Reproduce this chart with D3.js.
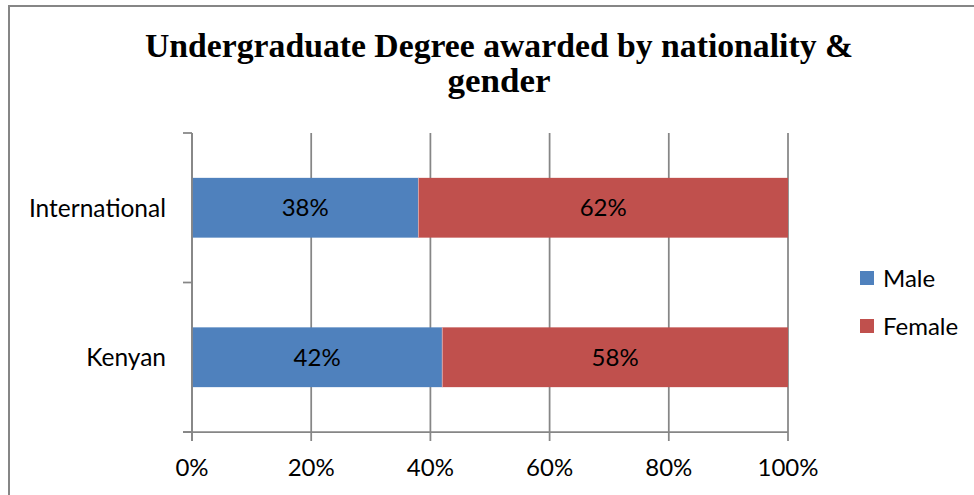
<!DOCTYPE html>
<html>
<head>
	<meta charset="utf-8">
	<script src="https://d3js.org/d3.v7.min.js"></script>
	<title>Undergraduate Degree awarded by nationality & gender</title>
	<style>
		body { margin: 0; background: #fff; }
		text { font-family: Lato, "Open Sans", sans-serif; fill: #000; }
	</style>
</head>
<body>
	<div id="chart"></div>

	<script type="text/javascript">

		// values (percent)
		var categories = ["International", "Kenyan"];
		var male = [38, 42];
		var female = [62, 58];
		var seriesNames = ["Male", "Female"];
		var seriesColors = ["#4F81BD", "#C0504D"];
		var xTicks = [0, 20, 40, 60, 80, 100];
		var titleLines = ["Undergraduate Degree awarded by nationality &", "gender"];

		var svgWidth = 974, svgHeight = 495;
		var plotLeft = 192, plotRight = 788, plotTop = 133, plotBottom = 432;

		var rows = categories.map(function(c, i){
			return {cat: c, Male: male[i], Female: female[i]};
		});
		var stacked = d3.stack().keys(seriesNames)(rows);

		var xScale = d3.scaleLinear().domain([0, 100]).range([plotLeft, plotRight]);
		var yScale = d3.scaleBand()
						.domain(categories)
						.range([plotTop, plotBottom])
						.paddingInner(0.6)
						.paddingOuter(0.3);

		var svg = d3.select("#chart").append("svg")
						.attr("width", svgWidth)
						.attr("height", svgHeight);

		// chart area border (only left and top are in frame)
		svg.append("path")
			.attr("d", "M9,495 V6 H974")
			.attr("fill", "none")
			.attr("stroke", "#868686")
			.attr("stroke-width", 2);

		// title
		svg.selectAll(".title")
			.data(titleLines).enter().append("text")
			.attr("class", "title")
			.attr("x", 499)
			.attr("y", function(d, i){ return 57 + i * 35; })
			.attr("text-anchor", "middle")
			.style("font-family", "'Liberation Serif', 'DejaVu Serif', serif")
			.style("font-weight", "bold")
			.style("font-size", "33px")
			.attr("textLength", function(d, i){ return i == 0 ? 708 : 103; })
			.attr("lengthAdjust", "spacingAndGlyphs")
			.text(function(d){ return d; });

		// gridlines
		svg.selectAll(".grid")
			.data(xTicks).enter().append("line")
			.attr("class", "grid")
			.attr("x1", function(d){ return xScale(d); })
			.attr("x2", function(d){ return xScale(d); })
			.attr("y1", plotTop)
			.attr("y2", plotBottom)
			.attr("stroke", "#868686")
			.attr("stroke-width", 1.75);

		// bars
		var groups = svg.selectAll(".series")
			.data(stacked).enter().append("g")
			.attr("class", "series")
			.attr("fill", function(d, i){ return seriesColors[i]; });

		groups.selectAll("rect")
			.data(function(d){ return d; }).enter().append("rect")
			.attr("x", function(d){ return xScale(d[0]); })
			.attr("y", function(d){ return yScale(d.data.cat); })
			.attr("width", function(d){ return xScale(d[1]) - xScale(d[0]); })
			.attr("height", yScale.bandwidth());

		// thin light line between segments
		svg.selectAll(".sep")
			.data(stacked[1]).enter().append("line")
			.attr("class", "sep")
			.attr("x1", function(d){ return xScale(d[0]); })
			.attr("x2", function(d){ return xScale(d[0]); })
			.attr("y1", function(d){ return yScale(d.data.cat); })
			.attr("y2", function(d){ return yScale(d.data.cat) + yScale.bandwidth(); })
			.attr("stroke", "#d9a0a0")
			.attr("stroke-width", 1);

		// value labels
		groups.selectAll(".val")
			.data(function(d){ return d; }).enter().append("text")
			.attr("class", "val")
			.attr("x", function(d){ return (xScale(d[0]) + xScale(d[1])) / 2; })
			.attr("y", function(d){ return yScale(d.data.cat) + yScale.bandwidth() / 2; })
			.attr("dy", "0.36em")
			.attr("text-anchor", "middle")
			.style("font-size", "24px")
			.style("fill", "#000")
			.text(function(d){ return (d[1] - d[0]) + "%"; });

		// axes
		var axisColor = "#868686";
		svg.append("line")
			.attr("x1", plotLeft).attr("x2", plotLeft)
			.attr("y1", plotTop).attr("y2", plotBottom + 9)
			.attr("stroke", axisColor).attr("stroke-width", 1.75);
		svg.append("line")
			.attr("x1", plotLeft - 9).attr("x2", plotRight)
			.attr("y1", plotBottom).attr("y2", plotBottom)
			.attr("stroke", axisColor).attr("stroke-width", 1.75);

		// x tick marks
		svg.selectAll(".xtick")
			.data(xTicks).enter().append("line")
			.attr("class", "xtick")
			.attr("x1", function(d){ return xScale(d); })
			.attr("x2", function(d){ return xScale(d); })
			.attr("y1", plotBottom)
			.attr("y2", plotBottom + 9)
			.attr("stroke", axisColor).attr("stroke-width", 1.75);

		// y tick marks at band boundaries
		var yBounds = [plotTop, (plotTop + plotBottom) / 2, plotBottom];
		svg.selectAll(".ytick")
			.data(yBounds).enter().append("line")
			.attr("class", "ytick")
			.attr("x1", plotLeft - 9)
			.attr("x2", plotLeft)
			.attr("y1", function(d){ return d; })
			.attr("y2", function(d){ return d; })
			.attr("stroke", axisColor).attr("stroke-width", 1.75);

		// x tick labels
		svg.selectAll(".xlabel")
			.data(xTicks).enter().append("text")
			.attr("class", "xlabel")
			.attr("x", function(d){ return xScale(d); })
			.attr("y", 476)
			.attr("text-anchor", "middle")
			.style("font-size", "24px")
			.text(function(d){ return d + "%"; });

		// category labels
		svg.selectAll(".ylabel")
			.data(categories).enter().append("text")
			.attr("class", "ylabel")
			.attr("x", 166)
			.attr("y", function(d){ return yScale(d) + yScale.bandwidth() / 2; })
			.attr("dy", "0.36em")
			.attr("text-anchor", "end")
			.style("font-size", "24.5px")
			.text(function(d){ return d; });

		// legend
		var legend = svg.selectAll(".legend")
			.data(seriesNames).enter().append("g")
			.attr("class", "legend")
			.attr("transform", function(d, i){ return "translate(860," + (271 + i * 48) + ")"; });

		legend.append("rect")
			.attr("width", 14)
			.attr("height", 14)
			.attr("fill", function(d, i){ return seriesColors[i]; });

		legend.append("text")
			.attr("x", 23)
			.attr("y", 7)
			.attr("dy", "0.36em")
			.style("font-size", "24px")
			.text(function(d){ return d; });

	</script>

</body>
</html>
